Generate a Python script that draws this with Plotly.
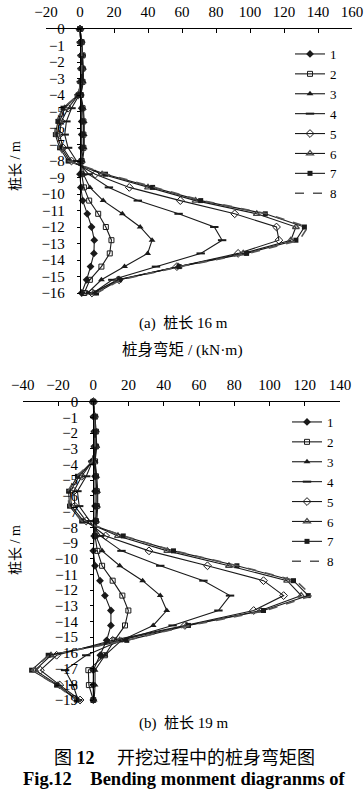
import plotly.graph_objects as go

# ---------------- data ----------------
series_names = ["1", "2", "3", "4", "5", "6", "7", "8"]

depth_a = [0, -0.8, -1.6, -2.4, -3.2, -4.0, -4.8, -5.6, -6.4, -7.2, -8.0,
           -8.8, -9.6, -10.4, -11.2, -12.0, -12.8, -13.6, -14.4, -15.2, -16.0]
a1 = [0, 1, 1, 1.5, 1, 0.5, 1, 1, 1, 1, 0.5, 0, 0.5, 1.6, 4.3, 6.8, 8.4, 8.2, 6.2, 3.9, 1]
a2 = [0, 1, 1.5, 1.5, 1.5, 0.5, 1.5, 2, 2, 2, 1, 1, 2.3, 5.4, 10.7, 15.2, 18.5, 17.5, 12.6, 5.8, 2.5]
a3 = [0, 1, 1.5, 2, 2, 0.5, 2, 2.5, 2.5, 2.5, 1.5, 2, 5.8, 13.6, 24.9, 35.4, 42.4, 39.8, 26.2, 12.6, 4.5]
a4 = [0, 0.5, 1, 1, 0.5, -0.5, -5, -8, -9, -7, -2, 5, 17, 34, 58, 79, 83.6, 71, 44.7, 19, 7.8]
a5 = [0, 0.5, 1, 1, 0.5, -1, -7, -11, -12, -10, -5, 9, 29, 59, 91, 115.6, 117, 93, 57, 23, 7]
a6 = [0, 0.5, 1, 1, 0.5, -1, -9, -12, -13.5, -11, -6, 13, 40, 68, 104, 127, 124, 96, 58, 22, 8]
a7 = [0, 0.5, 1, 1, 0.5, -1, -10, -13, -14.5, -12, -7, 15, 42.7, 71, 109, 132, 127, 98, 58.3, 23.3, 9.7]
a8 = [0, 0.5, 1, 1, 0.5, -1, -10, -14, -15, -12.5, -7, 16, 44, 72, 110, 134, 129, 99, 59, 24, 10]

depth_b = [0, -0.95, -1.9, -2.85, -3.8, -4.75, -5.7, -6.65, -7.6, -8.55, -9.5,
           -10.45, -11.4, -12.35, -13.3, -14.25, -15.2, -16.15, -17.1, -18.05, -19.0]
b1 = [0, 0.5, 1, 1, 0.5, 1, 1, 1, 1, 0.5, 0, 1, 3.8, 6.6, 10, 10, 7.6, 4, 0, 0, 0]
b2 = [0, 1, 1.5, 1.5, 1, 1.5, 2, 2, 1.5, 1, 2.3, 5, 11, 16.5, 19.9, 18, 12, 6.6, -2.8, -2.5, 0]
b3 = [0, 1, 1.5, 2, 1, 2, 2.5, 2.5, 2, 1.5, 5, 15, 28, 38, 41.7, 34, 16, 6.6, 1, 1, 0.5]
b4 = [0, 0.5, 1, 1, -0.5, -4, -9, -8, -2, 4, 16, 38, 62.5, 77.6, 71, 45, 16, -4, -16, -11.5, -8.6]
b5 = [0, 0.5, 1, 1, -0.5, -6.6, -11, -10.5, -4, 7, 31.6, 64.8, 96.6, 108, 91, 52, 11, -20.8, -30, -19, -7.5]
b6 = [0, 0.5, 1, 1, -0.5, -8, -13, -12.5, -5.5, 14, 42, 77, 110, 118, 95, 53, 15, -24, -33, -20, -9]
b7 = [0, 0.5, 1, 1, -0.5, -9, -14, -13.5, -6.6, 17, 45.5, 81.5, 113.6, 122, 96.6, 54, 19, -25.6, -35, -20.8, -9.4]
b8 = [0, 0.5, 1, 1, -0.5, -9.4, -14.4, -13.8, -6.6, 17, 46, 82, 115, 124, 98, 55, 19, -25, -35, -21, -9.5]

series_a = [a1, a2, a3, a4, a5, a6, a7, a8]
series_b = [b1, b2, b3, b4, b5, b6, b7, b8]

xticks_a = [-20, 0, 20, 40, 60, 80, 100, 120, 140, 160]
xticks_b = [-40, -20, 0, 20, 40, 60, 80, 100, 120, 140]

# ---------------- styles ----------------
INK = "#1a1a1a"
styles = [
    dict(symbol="diamond", size=6, color=INK, lw=0, dash="solid", mode="lines+markers"),
    dict(symbol="square-open", size=5, color=INK, lw=1, dash="solid", mode="lines+markers"),
    dict(symbol="triangle-up", size=6, color=INK, lw=0, dash="solid", mode="lines+markers"),
    dict(symbol="line-ew", size=6, color=INK, lw=2, dash="solid", mode="lines+markers"),
    dict(symbol="diamond-open", size=6, color=INK, lw=1, dash="solid", mode="lines+markers"),
    dict(symbol="triangle-up-open", size=6, color="#444444", lw=1.3, dash="solid", mode="lines+markers"),
    dict(symbol="square", size=5, color=INK, lw=0, dash="solid", mode="lines+markers"),
    dict(symbol="circle", size=1, color="#555555", lw=0, dash="dash", mode="lines"),
]

W, H = 364, 796
SERIF = "Liberation Serif, Times New Roman, serif"
CJK = "Liberation Serif, Noto Sans CJK SC, serif"

fig = go.Figure()


def add_panel(depth, series, xaxis, yaxis, legend):
    for name, vals, st in zip(series_names, series, styles):
        line_color = "#555555" if st["dash"] == "dash" else INK
        fig.add_trace(go.Scatter(
            x=vals, y=depth, name=name, mode=st["mode"],
            xaxis=xaxis, yaxis=yaxis, legend=legend,
            line=dict(color=line_color, width=1.1 if st["dash"] == "solid" else 1.6, dash=st["dash"]),
            marker=dict(symbol=st["symbol"], size=st["size"], color=st["color"],
                        line=dict(color=st["color"], width=st["lw"])),
            cliponaxis=False,
        ))


add_panel(depth_a, series_a, "x", "y", "legend")
add_panel(depth_b, series_b, "x2", "y2", "legend2")

# screen-pixel geometry of the reference
a_x0, a_x1 = 46, 352       # x=-20 .. 160
a_y0, a_y1 = 29, 293       # y=0 .. -16
b_x0, b_x1 = 22.8, 340     # x=-40 .. 140
b_y0, b_y1 = 401.7, 700    # y=0 .. -19


def px(v):
    return v / W


def py(v):
    return 1 - v / H


a_zero = a_x0 + (a_x1 - a_x0) * 20 / 180
b_zero = b_x0 + (b_x1 - b_x0) * 40 / 180

xaxis_common = dict(side="top", showline=True, linecolor="black", linewidth=1,
                    ticks="inside", ticklen=4, tickcolor="black", showgrid=False,
                    zeroline=False, tickfont=dict(family=SERIF, size=15, color="black"),
                    ticklabelstandoff=5, fixedrange=True, automargin=False)
yaxis_common = dict(showline=True, linecolor="black", linewidth=1.3, ticks="outside",
                    ticklen=3, tickcolor="black", showgrid=False, zeroline=False,
                    dtick=1, tickfont=dict(family=SERIF, size=15, color="black"),
                    ticklabelstandoff=9, anchor="free", fixedrange=True, automargin=False)

fig.update_layout(
    width=W, height=H,
    margin=dict(l=0, r=0, t=0, b=0, autoexpand=False),
    paper_bgcolor="white", plot_bgcolor="white",
    showlegend=True,
    xaxis=dict(domain=[px(a_x0), px(a_x1)], range=[-20, 160], tickvals=xticks_a,
               anchor="y", **xaxis_common),
    yaxis=dict(domain=[py(a_y1), py(a_y0)], range=[-16, 0], position=px(a_zero),
               **yaxis_common),
    xaxis2=dict(domain=[px(b_x0), px(b_x1)], range=[-40, 140], tickvals=xticks_b,
                anchor="y2", **xaxis_common),
    yaxis2=dict(domain=[py(b_y1), py(b_y0)], range=[-19, 0], position=px(b_zero),
                **yaxis_common),
    legend=dict(x=px(290), y=py(124), xanchor="left", yanchor="middle",
                bgcolor="rgba(0,0,0,0)", font=dict(family=SERIF, size=13, color="black")),
    legend2=dict(x=px(287), y=py(492), xanchor="left", yanchor="middle",
                 bgcolor="rgba(0,0,0,0)", font=dict(family=SERIF, size=13, color="black")),
)

annotations = [
    dict(text="桩长 / m", x=px(15), y=py(166), textangle=-90, font=dict(family=CJK, size=14)),
    dict(text="桩长 / m", x=px(15), y=py(550), textangle=-90, font=dict(family=CJK, size=14)),
    dict(text="(a)  桩长 16 m", x=px(183), y=py(323), font=dict(family=CJK, size=15)),
    dict(text="桩身弯矩 / (kN·m)", x=px(182), y=py(350), font=dict(family=CJK, size=15.5)),
    dict(text="(b)  桩长 19 m", x=px(183), y=py(723), font=dict(family=CJK, size=15)),
    dict(text="图 <b>12</b>　 开挖过程中的桩身弯矩图", x=px(184), y=py(758),
         font=dict(family=CJK, size=18)),
    dict(text="<b>Fig.12    Bending monment diagranms of</b>", x=px(184), y=py(779),
         font=dict(family=SERIF, size=18.5)),
]
for a in annotations:
    fig.add_annotation(xref="paper", yref="paper", showarrow=False,
                       xanchor="center", yanchor="middle",
                       font_color="black", **{k: v for k, v in a.items()})

# remove the default 8 px page margin so the figure fills the window exactly
fig.write_html("out.html", config={"displayModeBar": False},
               post_script="document.body.style.margin='0';")
